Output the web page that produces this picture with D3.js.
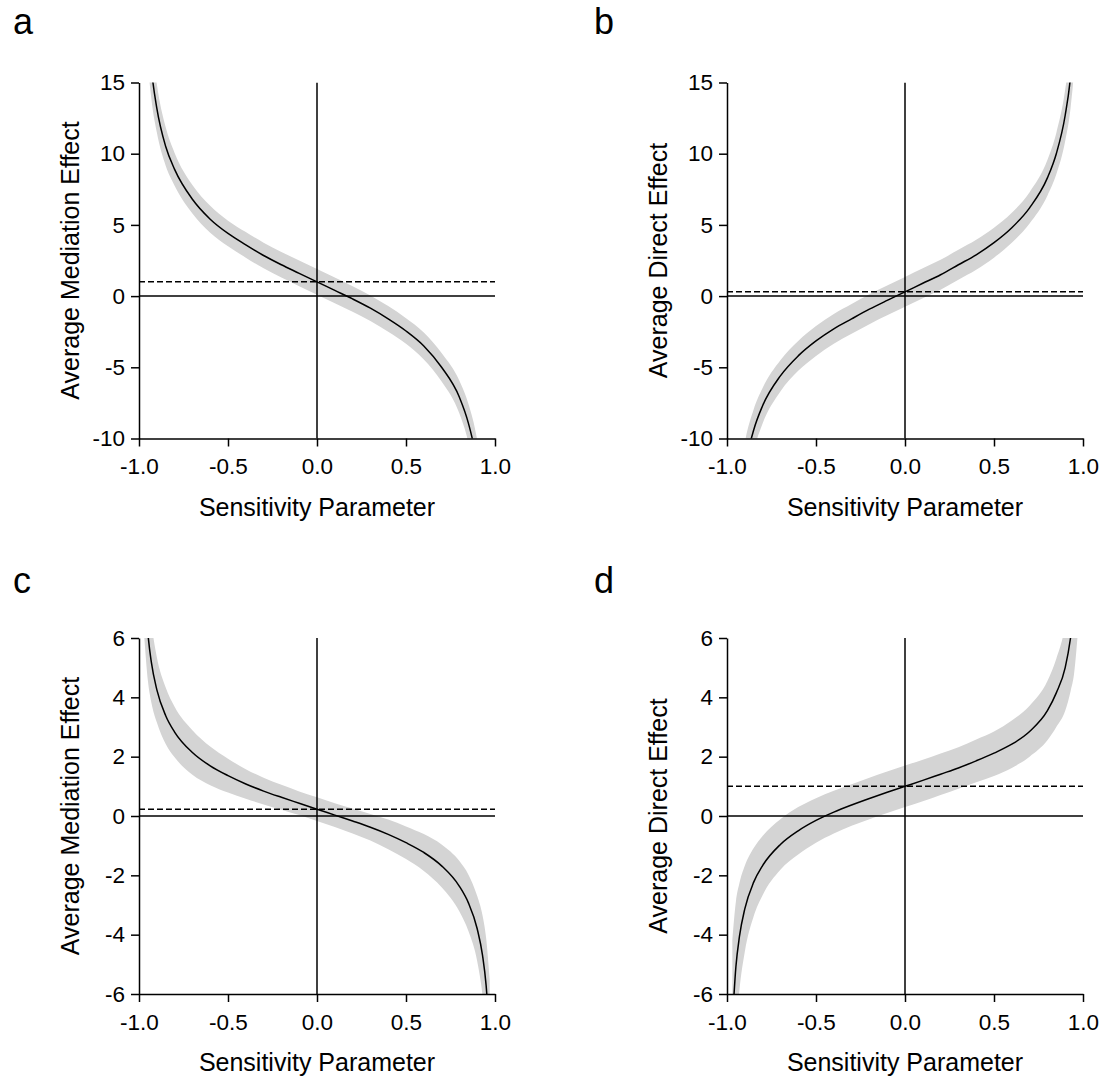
<!DOCTYPE html>
<html>
<head>
<meta charset="utf-8">
<script src="https://cdn.jsdelivr.net/npm/d3@7"></script>
<style>
  body { margin: 0; background: #fff; }
  text { font-family: "Liberation Sans", Arial, sans-serif; fill: #000; }
</style>
</head>
<body>
<svg width="1103" height="1077"></svg>
<script>
// sensitivity parameter grid (rho)
const rho = [-0.97, -0.95, -0.93, -0.9, -0.85, -0.8, -0.7, -0.6, -0.5, -0.4, -0.3, -0.2, -0.1, 0,
  0.1, 0.2, 0.3, 0.4, 0.5, 0.6, 0.7, 0.8, 0.85, 0.9, 0.93, 0.95, 0.97];

// a: average mediation effect
const medA = [24.5, 18.9, 15.9, 13.2, 10.5, 8.9, 6.8, 5.4, 4.4, 3.6, 2.85, 2.2, 1.6, 1.0,
  0.4, -0.2, -0.85, -1.6, -2.45, -3.5, -5.0, -7.1, -8.9, -11.8, -14.8, -18.5, -24];
const loA = [21.0, 16.4, 13.8, 11.5, 9.15, 7.75, 5.8, 4.45, 3.5, 2.7, 1.95, 1.3, 0.7, 0.1,
  -0.5, -1.1, -1.75, -2.5, -3.35, -4.45, -6.0, -8.25, -10.25, -13.5, -16.9, -21, -27.5];
const hiA = [28.0, 21.4, 18.0, 14.9, 11.85, 10.05, 7.8, 6.35, 5.3, 4.5, 3.75, 3.1, 2.5, 1.9,
  1.3, 0.7, 0.05, -0.7, -1.55, -2.55, -4.0, -5.95, -7.55, -10.1, -12.7, -16.0, -20.5];
const estA = 1.0;

// b: average direct effect
const medB = [-23.6, -17.9, -14.9, -12.1, -9.4, -7.7, -5.6, -4.2, -3.15, -2.3, -1.6, -0.92, -0.3, 0.3,
  0.9, 1.5, 2.2, 2.9, 3.75, 4.8, 6.2, 8.3, 10.0, 12.7, 15.4, 18.5, 24];
const loB = [-27.1, -20.5, -17.1, -13.9, -10.85, -8.95, -6.7, -5.25, -4.2, -3.35, -2.65, -1.97, -1.35, -0.75,
  -0.15, 0.45, 1.15, 1.85, 2.7, 3.75, 5.1, 7.05, 8.55, 10.9, 13.2, 15.9, 20.5];
const hiB = [-20.1, -15.3, -12.7, -10.3, -7.95, -6.45, -4.5, -3.15, -2.1, -1.25, -0.55, 0.13, 0.75, 1.35,
  1.95, 2.55, 3.25, 3.95, 4.8, 5.85, 7.3, 9.55, 11.45, 14.5, 17.6, 21.1, 27.5];
const estB = 0.3;

// c: average mediation effect
const medC = [8.0, 6.16, 5.16, 4.26, 3.38, 2.83, 2.14, 1.69, 1.36, 1.08, 0.84, 0.63, 0.43, 0.23,
  0.03, -0.17, -0.38, -0.62, -0.9, -1.23, -1.68, -2.37, -2.92, -3.8, -4.7, -5.7, -7.5];
const loC = [6.0, 4.56, 3.81, 3.16, 2.43, 1.98, 1.39, 1.04, 0.79, 0.58, 0.39, 0.21, 0.03, -0.17,
  -0.37, -0.59, -0.83, -1.12, -1.45, -1.85, -2.4, -3.22, -3.87, -4.9, -6.05, -7.3, -9.5];
const hiC = [10.0, 7.76, 6.51, 5.36, 4.33, 3.68, 2.89, 2.34, 1.93, 1.58, 1.29, 1.05, 0.83, 0.63,
  0.43, 0.25, 0.07, -0.12, -0.35, -0.61, -0.96, -1.52, -1.97, -2.7, -3.35, -4.1, -5.5];
const estC = 0.23;

// d: average direct effect
const medD = [-6.98, -5.08, -4.06, -3.13, -2.23, -1.67, -0.96, -0.5, -0.15, 0.13, 0.37, 0.59, 0.8, 1.0,
  1.2, 1.41, 1.62, 1.86, 2.12, 2.42, 2.85, 3.55, 4.15, 5.0, 6.0, 7.0, 8.9];
const loD = [-9.78, -7.28, -5.86, -4.58, -3.38, -2.67, -1.81, -1.3, -0.9, -0.59, -0.33, -0.11, 0.1, 0.3,
  0.5, 0.71, 0.92, 1.14, 1.35, 1.62, 2.0, 2.55, 3.0, 3.55, 4.2, 4.8, 6.1];
const hiD = [-4.18, -2.88, -2.26, -1.68, -1.08, -0.67, -0.11, 0.3, 0.6, 0.85, 1.07, 1.29, 1.5, 1.7,
  1.9, 2.11, 2.32, 2.58, 2.85, 3.22, 3.72, 4.55, 5.3, 6.45, 7.8, 9.2, 11.7];
const estD = 1.0;

const xTicks = [-1, -0.5, 0, 0.5, 1];
const yTicksTop = [-10, -5, 0, 5, 10, 15];
const yTicksBottom = [-6, -4, -2, 0, 2, 4, 6];

const W = 356, H = 356;
const svg = d3.select("svg");

const panels = [
  { id: "a", left: 139, top: 82.5, ydom: [-10, 15], yticks: yTicksTop, title: "Average Mediation Effect",
    med: medA, lo: loA, hi: hiA, est: estA },
  { id: "b", left: 727, top: 82.5, ydom: [-10, 15], yticks: yTicksTop, title: "Average Direct Effect",
    med: medB, lo: loB, hi: hiB, est: estB },
  { id: "c", left: 139, top: 638, ydom: [-6, 6], yticks: yTicksBottom, title: "Average Mediation Effect",
    med: medC, lo: loC, hi: hiC, est: estC },
  { id: "d", left: 727, top: 638, ydom: [-6, 6], yticks: yTicksBottom, title: "Average Direct Effect",
    med: medD, lo: loD, hi: hiD, est: estD }
];

const labelPos = { a: [13, 34], b: [594, 34], c: [13, 593], d: [594, 593] };

panels.forEach(p => {
  const x = d3.scaleLinear().domain([-1, 1]).range([0, W]);
  const y = d3.scaleLinear().domain(p.ydom).range([H, 0]);
  const g = svg.append("g").attr("transform", `translate(${p.left},${p.top})`);

  svg.append("clipPath").attr("id", "clip-" + p.id)
    .append("rect").attr("width", W).attr("height", H);

  const rows = rho.map((r, i) => ({ r, m: p.med[i], lo: p.lo[i], hi: p.hi[i] }));
  const plot = g.append("g").attr("clip-path", `url(#clip-${p.id})`);

  plot.append("path")
    .datum(rows)
    .attr("fill", "#d4d4d4")
    .attr("d", d3.area().curve(d3.curveMonotoneX)
      .x(d => x(d.r)).y0(d => y(d.lo)).y1(d => y(d.hi)));

  // reference lines
  plot.append("line")
    .attr("x1", 0).attr("x2", W).attr("y1", y(0)).attr("y2", y(0))
    .attr("stroke", "#000").attr("stroke-width", 1.5);
  plot.append("line")
    .attr("x1", x(0)).attr("x2", x(0)).attr("y1", 0).attr("y2", H)
    .attr("stroke", "#000").attr("stroke-width", 1.5);
  plot.append("line")
    .attr("x1", 0).attr("x2", W).attr("y1", y(p.est)).attr("y2", y(p.est))
    .attr("stroke", "#000").attr("stroke-width", 1.5).attr("stroke-dasharray", "6,3");

  plot.append("path")
    .datum(rows)
    .attr("fill", "none")
    .attr("stroke", "#000")
    .attr("stroke-width", 1.5)
    .attr("d", d3.line().curve(d3.curveMonotoneX).x(d => x(d.r)).y(d => y(d.m)));

  const yAxis = g.append("g")
    .call(d3.axisLeft(y).tickValues(p.yticks).tickFormat(d => String(d))
      .tickSize(8).tickSizeOuter(0).tickPadding(6));
  const xAxis = g.append("g").attr("transform", `translate(0,${H})`)
    .call(d3.axisBottom(x).tickValues(xTicks).tickFormat(d => d.toFixed(1))
      .tickSize(8).tickSizeOuter(0).tickPadding(12));
  [yAxis, xAxis].forEach(ax => {
    ax.selectAll("path, line").attr("stroke", "#000").attr("stroke-width", 1.5);
    ax.selectAll("text").attr("font-size", 22.5).attr("font-family", '"Liberation Sans", Arial, sans-serif').attr("fill", "#000");
  });

  g.append("text")
    .attr("x", W / 2).attr("y", H + 77)
    .attr("text-anchor", "middle").attr("font-size", 25)
    .text("Sensitivity Parameter");

  g.append("text")
    .attr("transform", `translate(-69,${H / 2}) rotate(-90)`)
    .attr("text-anchor", "middle").attr("dy", "0.35em").attr("font-size", 25)
    .text(p.title);

  svg.append("text")
    .attr("x", labelPos[p.id][0]).attr("y", labelPos[p.id][1])
    .attr("font-size", 36)
    .text(p.id);
});
</script>
</body>
</html>
